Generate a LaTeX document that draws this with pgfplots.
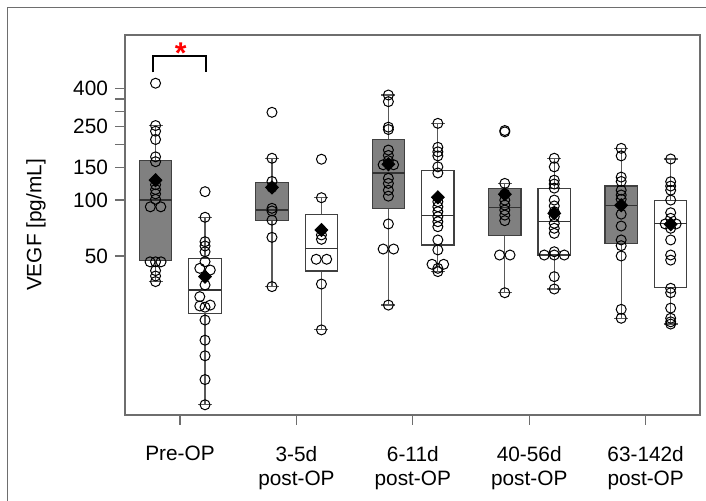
\documentclass[border=0pt]{standalone}
\usepackage{fontspec}
\setmainfont{Liberation Sans}
\usepackage{pgfplots}
\pgfplotsset{compat=1.18}
\definecolor{boxgray}{RGB}{128,128,128}
\definecolor{axgray}{RGB}{110,110,110}
\begin{document}
\begin{tikzpicture}
\begin{axis}[
  at={(0,0)}, anchor=south west,
  scale only axis, width=287.5pt, height=190pt,
  ymode=log, ymin=6.96, ymax=775,
  xmin=-0.4725, xmax=4.467,
  xtick={0,1,2,3,4},
  xticklabels={Pre-OP,{3-5d\\post-OP},{6-11d\\post-OP},{40-56d\\post-OP},{63-142d\\post-OP}},
  ytick={50,100,150,200,250,300,350,400},
  yticklabels={50,100,150,,250,,,400},
  minor tick num=0,
  tick pos=left, tick align=outside,
  major tick length=5pt,
  every tick/.style={axgray, line width=0.6pt},
  axis line style={axgray, line width=0.7pt},
  /pgf/number format/assume math mode=true,
  tick label style={font=\fontsize{10.4}{12}\selectfont},
  xticklabel style={align=center, yshift=-7pt},
  ylabel={VEGF [pg/mL]},
  ylabel style={font=\fontsize{10.4}{12}\selectfont, at={(axis description cs:-0.1548,0.5)}, anchor=center},
  clip=false,
  unbounded coords=jump,
]
% ---- whiskers ----
\addplot[black!65, line width=0.6pt, mark=none] coordinates {
 (-0.21,36.4)(-0.21,252) (-0.21,nan) (0.215,7.9)(0.215,80.8) (0.215,nan)
 (0.79,34.2)(0.79,168) (0.79,nan) (1.215,20)(1.215,103) (1.215,nan)
 (1.79,27.2)(1.79,368) (1.79,nan) (2.215,41.2)(2.215,259) (2.215,nan)
 (2.79,31.7)(2.79,123) (2.79,nan) (3.215,33.2)(3.215,168) (3.215,nan)
 (3.79,23.1)(3.79,190) (3.79,nan) (4.215,21.5)(4.215,166.5)
};
% ---- whisker caps ----
\addplot[black!65, line width=0.6pt, mark=none] coordinates {
 (-0.27,36.4)(-0.15,36.4) (0,nan) (-0.27,252)(-0.15,252) (0,nan)
 (0.155,7.9)(0.275,7.9) (0,nan) (0.155,80.8)(0.275,80.8) (0,nan)
 (0.73,34.2)(0.85,34.2) (0,nan) (0.73,168)(0.85,168) (0,nan)
 (1.155,20)(1.275,20) (0,nan) (1.155,103)(1.275,103) (0,nan)
 (1.73,27.2)(1.85,27.2) (0,nan) (1.73,368)(1.85,368) (0,nan)
 (2.155,41.2)(2.275,41.2) (0,nan) (2.155,259)(2.275,259) (0,nan)
 (2.73,31.7)(2.85,31.7) (0,nan) (2.73,123)(2.85,123) (0,nan)
 (3.155,33.2)(3.275,33.2) (0,nan) (3.155,168)(3.275,168) (0,nan)
 (3.73,23.1)(3.85,23.1) (0,nan) (3.73,190)(3.85,190) (0,nan)
 (4.155,21.5)(4.275,21.5) (0,nan) (4.155,166.5)(4.275,166.5)
};
% ---- boxes (lower quartile to upper quartile) ----
\addplot[fill=boxgray, draw=black!75, line width=0.6pt, mark=none] coordinates {(-0.349,47.2)(-0.071,47.2)(-0.071,164)(-0.349,164)} -- cycle;
\addplot[fill=white, draw=black!75, line width=0.6pt, mark=none] coordinates {(0.076,24.6)(0.354,24.6)(0.354,48.6)(0.076,48.6)} -- cycle;
\addplot[fill=boxgray, draw=black!75, line width=0.6pt, mark=none] coordinates {(0.651,77.5)(0.929,77.5)(0.929,124)(0.651,124)} -- cycle;
\addplot[fill=white, draw=black!75, line width=0.6pt, mark=none] coordinates {(1.076,41.5)(1.354,41.5)(1.354,83.9)(1.076,83.9)} -- cycle;
\addplot[fill=boxgray, draw=black!75, line width=0.6pt, mark=none] coordinates {(1.651,90.3)(1.929,90.3)(1.929,213)(1.651,213)} -- cycle;
\addplot[fill=white, draw=black!75, line width=0.6pt, mark=none] coordinates {(2.076,57.3)(2.354,57.3)(2.354,145)(2.076,145)} -- cycle;
\addplot[fill=boxgray, draw=black!75, line width=0.6pt, mark=none] coordinates {(2.651,64.3)(2.929,64.3)(2.929,115.8)(2.651,115.8)} -- cycle;
\addplot[fill=white, draw=black!75, line width=0.6pt, mark=none] coordinates {(3.076,50.6)(3.354,50.6)(3.354,115.8)(3.076,115.8)} -- cycle;
\addplot[fill=boxgray, draw=black!75, line width=0.6pt, mark=none] coordinates {(3.651,58.5)(3.929,58.5)(3.929,119)(3.651,119)} -- cycle;
\addplot[fill=white, draw=black!75, line width=0.6pt, mark=none] coordinates {(4.076,33.9)(4.354,33.9)(4.354,99.3)(4.076,99.3)} -- cycle;
% ---- medians ----
\addplot[black!80, line width=0.6pt, mark=none] coordinates {
 (-0.349,100)(-0.071,100) (0,nan) (0.076,32.8)(0.354,32.8) (0,nan)
 (0.651,88.4)(0.929,88.4) (0,nan) (1.076,55)(1.354,55) (0,nan)
 (1.651,140)(1.929,140) (0,nan) (2.076,82.4)(2.354,82.4) (0,nan)
 (2.651,91)(2.929,91) (0,nan) (3.076,76.5)(3.354,76.5) (0,nan)
 (3.651,93.8)(3.929,93.8) (0,nan) (4.076,75)(4.354,75)
};
% ---- individual values ----
\addplot[only marks, mark=o, mark size=2.5pt, black, mark options={line width=0.5pt}] coordinates {
 (-0.21,426) (-0.21,252) (-0.21,235) (-0.21,212) (-0.21,171) (-0.21,161) (-0.21,121) (-0.21,114) (-0.21,108) (-0.21,101)
 (-0.255,92) (-0.165,92) (-0.257,46.5) (-0.21,46.5) (-0.163,46.5) (-0.21,41.7) (-0.21,39) (-0.21,36.4)
 (0.215,111) (0.215,80.8) (0.215,59.7) (0.215,56.6) (0.215,52.7) (0.215,46.6) (0.17,42.9) (0.26,42) (0.215,34.9)
 (0.17,30.2) (0.17,26.9) (0.215,26.5) (0.26,27.2) (0.215,22.6) (0.215,17.6) (0.215,14.5) (0.215,10.8) (0.215,7.9)
 (0.79,297) (0.79,168) (0.79,126) (0.79,117) (0.79,90.3) (0.79,87.4) (0.79,78) (0.79,63) (0.79,34.2)
 (1.215,166) (1.215,103) (1.215,64.9) (1.215,61.5) (1.17,48) (1.26,48) (1.215,35.3) (1.215,20)
 (1.79,368) (1.79,339) (1.79,247) (1.79,240) (1.79,186) (1.79,174) (1.79,163) (1.745,155) (1.835,155) (1.79,131)
 (1.79,123) (1.79,113) (1.79,105) (1.79,74.4) (1.745,54.5) (1.835,54.5) (1.79,27.2)
 (2.215,259) (2.215,192.5) (2.215,182) (2.215,173) (2.215,151) (2.215,140) (2.215,98) (2.215,92) (2.215,86.6)
 (2.215,81.4) (2.215,76.5) (2.215,71.9) (2.215,61) (2.215,53.9) (2.165,45.1) (2.265,45.1) (2.215,42.9) (2.215,41.2)
 (2.79,233) (2.79,237) (2.79,123) (2.79,108) (2.79,100) (2.79,94) (2.79,88.4) (2.79,83) (2.79,77.5)
 (2.745,50.6) (2.835,50.6) (2.79,31.7)
 (3.215,168) (3.215,151) (3.215,128) (3.215,122) (3.215,116) (3.215,100) (3.215,93) (3.215,86.6) (3.215,81.4)
 (3.215,75) (3.215,70.5) (3.215,66.2) (3.215,52.7) (3.129,50.6) (3.215,50.6) (3.301,50.6) (3.215,38.7) (3.215,33.2)
 (3.79,190) (3.79,173) (3.79,133) (3.79,126) (3.79,113) (3.79,106.5) (3.79,101) (3.79,84) (3.79,72.5) (3.79,61)
 (3.79,56.8) (3.79,50) (3.79,25.8) (3.79,23.1)
 (4.215,166.5) (4.215,125.6) (4.215,119) (4.215,113) (4.215,100) (4.215,85.5) (4.215,79.8) (4.168,74.4) (4.262,74.4)
 (4.215,70.5) (4.215,61) (4.215,50.6) (4.215,47.5) (4.215,33.5) (4.215,31.7) (4.215,26.2) (4.215,23.1) (4.215,22.1) (4.215,21.5)
};
% ---- means ----
\addplot[only marks, mark=diamond*, mark size=3.3pt, black, mark options={xscale=1.3}] coordinates {
 (-0.21,128) (0.215,38.7) (0.79,117) (1.215,69) (1.79,156) (2.215,103.5) (2.79,107.5) (3.215,84.9) (3.79,93.8) (4.215,74.1)
};
% ---- significance bracket ----
\draw[black, line width=1pt] (axis cs:-0.229,488) -- (axis cs:-0.229,600) -- (axis cs:0.223,600) -- (axis cs:0.223,488);
\node[red, font=\fontsize{15}{15}\selectfont\bfseries, anchor=base, inner sep=0pt] at (axis cs:0.006,547) {*};
\end{axis}
\pgfresetboundingbox
\path[use as bounding box] (-62.5pt,-43pt) rectangle (290.5pt,207.5pt);
\draw[axgray, line width=0.6pt] (-58.65pt,-43pt) -- (-58.65pt,203.85pt) -- (290.5pt,203.85pt);
\end{tikzpicture}
\end{document}
